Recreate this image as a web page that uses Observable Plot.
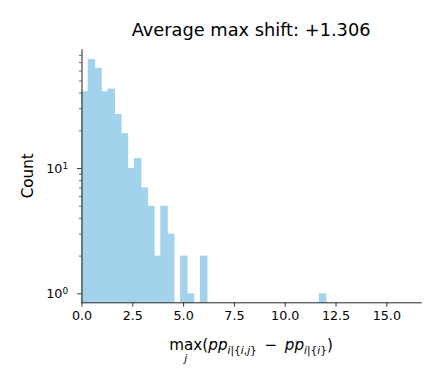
<!DOCTYPE html>
<html>
<head>
<meta charset="utf-8">
<script src="https://cdn.jsdelivr.net/npm/d3@7"></script>
<script src="https://cdn.jsdelivr.net/npm/@observablehq/plot@0.6"></script>
<style>
  html, body { margin: 0; padding: 0; background: #fff; }
  #chart { position: relative; width: 439px; height: 385px; }
</style>
</head>
<body>
<div id="chart"></div>
<script>
// Histogram counts per bin (bin index k covers [k*binWidth, (k+1)*binWidth))
const binWidth = 0.325;
const counts = [41, 74, 63, 41, 43, 27, 19, 10, 12, 7, 5, 2, 5, 3, 0, 2, 1, 0, 2,
                0, 0, 0, 0, 0, 0, 0, 0, 0, 0, 0, 0, 0, 0, 0, 0, 0, 1];
const xTicks = [0, 2.5, 5, 7.5, 10, 12.5, 15];
const yMajorTicks = [1, 10];
const yMajorExponents = ["0", "1"];
const yMinorTicks = [2, 3, 4, 5, 6, 7, 8, 9, 20, 30, 40, 50, 60, 70, 80];
const xDomain = [0, 16.69];
const yDomain = [0.848, 88.6];
const titleText = "Average max shift: +1.306";
const yLabelText = "Count";
const barColor = "#a3d2ed";

const bins = counts
  .map((c, k) => ({x1: k * binWidth, x2: (k + 1) * binWidth, count: c}))
  .filter(d => d.count > 0);

const W = 439, H = 385;
const mL = 81.5, mR = 18.3, mT = 49.3, mB = 82.7;

const plot = Plot.plot({
  width: W,
  height: H,
  marginLeft: mL,
  marginRight: mR,
  marginTop: mT,
  marginBottom: mB,
  style: {fontFamily: "DejaVu Sans", fontSize: "12.7px", color: "#000", background: "#fff"},
  x: {domain: xDomain},
  y: {type: "log", domain: yDomain},
  marks: [
    Plot.rect(bins, {x1: "x1", x2: "x2", y1: yDomain[0], y2: "count", fill: barColor,
                     insetLeft: -0.45, insetRight: -0.45, insetTop: 0, insetBottom: 0}),
    Plot.axisX({ticks: xTicks, tickFormat: d3.format(".1f"), tickSize: 4.4, tickPadding: 3.6, label: null, stroke: "#222", strokeWidth: 0.9}),
    Plot.axisY({ticks: yMajorTicks, tickFormat: (d) => "10^" + yMajorExponents[yMajorTicks.indexOf(d)], tickSize: 4.4, tickPadding: 9.5, label: null, stroke: "#222", strokeWidth: 0.9}),
    Plot.axisY({ticks: yMinorTicks, tickFormat: () => "", tickSize: 2.5, label: null, stroke: "#222", strokeWidth: 0.7}),
    Plot.frame({anchor: "left", stroke: "#222", strokeWidth: 1}),
    Plot.frame({anchor: "bottom", stroke: "#222", strokeWidth: 1})
  ]
});

document.getElementById("chart").appendChild(plot);

const svg = d3.select(plot);

// Render "10^n" tick labels with a real superscript
svg.selectAll("text").each(function () {
  const t = this.textContent;
  const m = /^10\^(\d)$/.exec(t);
  if (!m) return;
  const el = d3.select(this);
  el.selectAll("*").remove();
  el.text("");
  el.append("tspan").text("10");
  el.append("tspan").attr("font-size", 8.9).attr("dy", "-0.45em").text(m[1]);
});

const cx = (mL + (W - mR)) / 2;
const cy = (mT + (H - mB)) / 2;

// Title
svg.append("text")
  .attr("x", cx).attr("y", 36)
  .attr("text-anchor", "middle")
  .attr("font-family", "DejaVu Sans")
  .attr("font-size", 17.8)
  .attr("fill", "#000")
  .text(titleText);

// Y label
svg.append("text")
  .attr("transform", `translate(33,${cy}) rotate(-90)`)
  .attr("text-anchor", "middle")
  .attr("font-family", "DejaVu Sans")
  .attr("font-size", 15.2)
  .attr("fill", "#000")
  .text(yLabelText);

// X label (math-like)
const fs = 15.2, sfs = 10.6, sub = 3.6;
const xl = svg.append("text")
  .attr("x", cx).attr("y", 350)
  .attr("text-anchor", "middle")
  .attr("font-family", "DejaVu Sans")
  .attr("font-size", fs)
  .attr("fill", "#000");
const maxSpan = xl.append("tspan").text("max");
xl.append("tspan").text("(");
xl.append("tspan").attr("font-style", "italic").text("pp");
xl.append("tspan").attr("font-size", sfs).attr("dy", sub).attr("font-style", "italic").text("i");
xl.append("tspan").attr("font-size", sfs).text("|{");
xl.append("tspan").attr("font-size", sfs).attr("font-style", "italic").text("i");
xl.append("tspan").attr("font-size", sfs).text(",");
xl.append("tspan").attr("font-size", sfs).attr("font-style", "italic").text("j");
xl.append("tspan").attr("font-size", sfs).text("}");
xl.append("tspan").attr("dy", -sub).text("\u2002\u2212\u2002");
xl.append("tspan").attr("font-style", "italic").text("pp");
xl.append("tspan").attr("font-size", sfs).attr("dy", sub).attr("font-style", "italic").text("i");
xl.append("tspan").attr("font-size", sfs).text("|{");
xl.append("tspan").attr("font-size", sfs).attr("font-style", "italic").text("i");
xl.append("tspan").attr("font-size", sfs).text("}");
xl.append("tspan").attr("dy", -sub).text(")");

let jx = 183;
try {
  const bb = maxSpan.node().getBBox();
  if (bb && bb.width > 0) jx = bb.x + bb.width / 2;
} catch (e) {}
svg.append("text")
  .attr("x", jx).attr("y", 362)
  .attr("text-anchor", "middle")
  .attr("font-family", "DejaVu Sans")
  .attr("font-style", "italic")
  .attr("font-size", sfs)
  .attr("fill", "#000")
  .text("j");
</script>
</body>
</html>
